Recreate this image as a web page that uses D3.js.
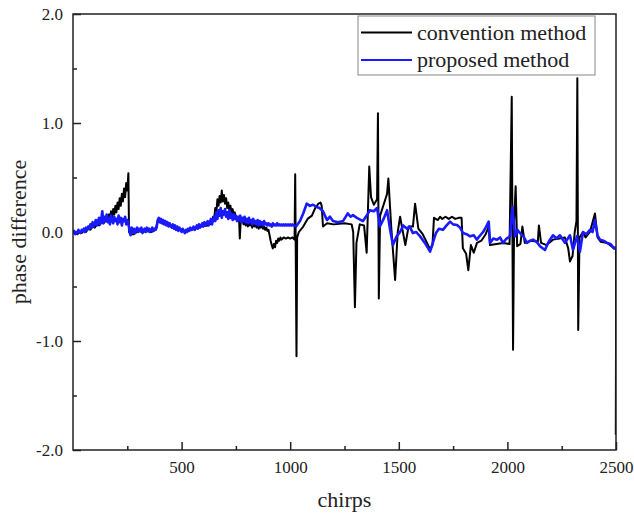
<!DOCTYPE html>
<html>
<head>
<meta charset="utf-8">
<script src="https://cdn.jsdelivr.net/npm/d3@7"></script>
<style>
  body { margin: 0; background: #fff; }
  text { font-family: "Liberation Serif", "Times New Roman", serif; fill: #222; }
  .line { fill: none; stroke-linejoin: round; }
</style>
</head>
<body>
<script>
// series names
var seriesNames = ["convention method", "proposed method"];

// tick labels
var xTicks = [500, 1000, 1500, 2000, 2500];
var xMinor = [250, 750, 1250, 1750, 2250];
var yTicks = [-2, -1, 0, 1, 2];
var yMinor = [-1.5, -0.5, 0.5, 1.5];

// proposed method, chirps 0..1020 sampled every 5 chirps
var earlyStep = 5;
var proposedEarly = [
  -0.01,0.01,-0.02,0.00,-0.01,0.02,0.00,-0.01,0.02,0.01,
  0.03,0.00,0.04,0.02,0.05,0.03,0.07,0.04,0.09,0.05,
  0.08,0.11,0.06,0.10,0.13,0.07,0.12,0.19,0.08,0.14,
  0.10,0.16,0.09,0.13,0.07,0.15,0.11,0.08,0.14,0.10,
  0.12,0.07,0.15,0.09,0.13,0.06,0.12,0.10,0.14,0.07,
  0.11,0.08,0.01,-0.03,0.04,0.00,0.03,-0.01,0.02,0.04,
  0.00,0.03,0.01,0.04,-0.01,0.02,0.03,0.00,0.04,0.01,
  0.03,0.00,0.02,0.04,0.01,0.03,0.02,0.04,0.11,0.13,
  0.09,0.12,0.08,0.11,0.07,0.10,0.06,0.09,0.05,0.08,
  0.06,0.04,0.07,0.03,0.06,0.02,0.05,0.01,0.04,0.02,
  0.00,0.03,0.01,-0.01,0.02,0.00,0.03,0.01,0.04,0.02,
  0.03,0.05,0.02,0.04,0.06,0.03,0.07,0.04,0.06,0.08,
  0.05,0.09,0.06,0.08,0.10,0.06,0.09,0.12,0.07,0.11,
  0.14,0.10,0.18,0.12,0.20,0.15,0.22,0.13,0.19,0.16,
  0.21,0.14,0.18,0.12,0.20,0.13,0.17,0.11,0.16,0.12,
  0.15,0.10,0.14,0.11,0.15,0.09,0.13,0.10,0.14,0.09,
  0.12,0.08,0.13,0.09,0.11,0.07,0.12,0.08,0.10,0.07,
  0.11,0.06,0.10,0.07,0.09,0.06,0.10,0.07,0.08,0.06,
  0.08,0.06,0.07,0.05,0.08,0.06,0.07,0.06,0.08,0.06,
  0.07,0.06,0.07,0.06,0.07,0.06,0.07,0.06,0.07,0.06,
  0.07,0.06,0.07,0.06,0.06
];

// proposed method after chirp 1020: [chirp, phase difference]
var proposedLate = [
  [1027,0.05],[1045,0.10],[1060,0.17],[1076,0.26],[1091,0.24],[1105,0.25],[1122,0.23],[1135,0.22],[1151,0.19],[1169,0.11],
  [1183,0.14],[1197,0.10],[1220,0.09],[1243,0.10],[1265,0.17],[1278,0.14],[1289,0.155],[1307,0.13],[1335,0.10],[1354,0.155],
  [1367,0.20],[1385,0.19],[1400,0.22],[1413,0.05],[1430,0.12],[1446,0.20],[1460,0.02],[1473,-0.12],[1490,-0.04],[1506,0.00],
  [1520,0.06],[1538,0.03],[1550,0.05],[1565,-0.01],[1580,0.00],[1598,-0.04],[1620,-0.10],[1644,-0.18],[1660,-0.08],[1671,-0.01],
  [1685,0.03],[1703,0.02],[1720,0.06],[1736,0.095],[1750,0.07],[1768,0.065],[1782,0.04],[1796,-0.01],[1812,-0.02],[1828,-0.04],
  [1845,-0.03],[1859,-0.07],[1875,-0.03],[1888,0.00],[1900,0.04],[1914,0.095],[1920,-0.10],[1935,-0.06],[1952,-0.07],[1966,-0.05],
  [1980,-0.10],[1996,-0.06],[2012,-0.04],[2023,0.23],[2035,-0.04],[2046,0.02],[2058,-0.01],[2074,-0.04],[2090,-0.10],[2104,-0.08],
  [2118,-0.07],[2134,-0.09],[2150,-0.13],[2173,-0.165],[2190,-0.09],[2210,-0.03],[2226,-0.06],[2242,-0.03],[2265,-0.10],[2288,-0.03],
  [2302,-0.165],[2320,-0.04],[2334,-0.18],[2348,0.00],[2364,-0.02],[2380,0.02],[2392,0.00],[2403,0.11],[2415,-0.03],[2426,-0.07],
  [2442,-0.08],[2459,-0.10],[2475,-0.11],[2491,-0.15],[2500,-0.14]
];

// convention method: [chirp, phase difference]
var convention = [
  [0,-0.01],[10,-0.01],[20,-0.02],[30,0.00],[40,-0.01],[50,0.01],[60,0.00],[70,0.03],[80,0.02],[90,0.05],
  [100,0.04],[110,0.07],[120,0.06],[130,0.09],[140,0.08],[150,0.10],[155,0.14],[160,0.09],[165,0.16],[170,0.12],
  [175,0.19],[180,0.13],[185,0.21],[190,0.16],[195,0.24],[200,0.18],[205,0.27],[210,0.21],[215,0.31],[220,0.24],
  [225,0.35],[230,0.28],[235,0.40],[240,0.32],[245,0.45],[250,0.38],[255,0.54],[258,0.00],[265,-0.02],[280,-0.02],
  [300,0.01],[320,0.00],[340,0.01],[360,0.00],[380,0.02],[390,0.10],[410,0.08],[430,0.07],[450,0.05],[470,0.04],
  [500,0.01],[530,0.01],[560,0.03],[590,0.05],[620,0.06],[640,0.08],[645,0.14],[650,0.12],[655,0.22],[660,0.18],
  [665,0.30],[670,0.24],[675,0.33],[680,0.27],[685,0.38],[690,0.28],[695,0.34],[700,0.26],[705,0.31],[710,0.22],
  [715,0.27],[720,0.20],[725,0.24],[730,0.17],[735,0.21],[740,0.14],[745,0.18],[750,0.12],[760,0.14],[765,0.10],
  [768,-0.06],[772,0.10],[780,0.12],[785,0.07],[790,0.11],[795,0.06],[800,0.10],[805,0.05],[810,0.09],[815,0.06],
  [820,0.10],[825,0.04],[830,0.08],[835,0.05],[840,0.09],[845,0.04],[850,0.07],[855,0.03],[860,0.08],[865,0.04],
  [870,0.06],[875,0.03],[880,0.05],[885,0.02],[890,0.04],[895,0.01],[900,0.02],[905,-0.03],[910,-0.08],[915,-0.12],
  [920,-0.15],[925,-0.11],[930,-0.14],[935,-0.08],[940,-0.10],[945,-0.06],[950,-0.08],[955,-0.05],[960,-0.07],[970,-0.05],
  [980,-0.06],[990,-0.05],[1000,-0.06],[1010,-0.05],[1020,-0.07],[1023,0.53],[1026,-0.30],[1029,-1.14],[1032,-0.05],[1040,0.00],
  [1060,0.05],[1080,0.12],[1100,0.15],[1115,0.22],[1130,0.26],[1140,0.27],[1145,0.24],[1151,0.05],[1170,0.08],[1200,0.07],
  [1250,0.08],[1283,0.07],[1290,0.00],[1298,-0.69],[1305,-0.10],[1320,0.07],[1340,0.06],[1352,-0.19],[1364,0.60],[1372,0.32],
  [1385,0.25],[1400,0.30],[1404,1.09],[1408,-0.61],[1414,0.15],[1430,0.25],[1446,0.35],[1452,0.49],[1465,0.05],[1483,-0.44],
  [1495,0.00],[1506,0.14],[1530,-0.12],[1545,0.05],[1565,0.05],[1575,0.26],[1590,0.03],[1610,-0.02],[1630,-0.10],[1644,-0.16],
  [1655,-0.12],[1662,0.13],[1680,0.11],[1690,0.14],[1700,0.12],[1715,0.14],[1730,0.12],[1745,0.14],[1760,0.12],[1775,0.13],
  [1789,0.13],[1795,-0.15],[1810,-0.20],[1820,-0.35],[1832,-0.12],[1845,-0.19],[1860,-0.10],[1880,-0.08],[1900,-0.02],[1914,0.05],
  [1920,-0.12],[1950,-0.11],[1980,-0.10],[2010,-0.11],[2020,1.24],[2026,-1.08],[2031,0.10],[2038,0.42],[2045,-0.13],[2060,-0.11],
  [2069,0.05],[2080,-0.10],[2110,-0.08],[2140,-0.09],[2145,0.06],[2155,-0.10],[2180,-0.12],[2210,-0.07],[2240,-0.06],[2265,-0.05],
  [2280,-0.15],[2288,-0.27],[2300,-0.22],[2310,0.00],[2318,0.10],[2322,1.41],[2326,-0.90],[2332,-0.05],[2348,0.00],[2360,-0.05],
  [2380,0.00],[2403,0.17],[2415,-0.05],[2430,-0.09],[2460,-0.10],[2490,-0.15],[2496,-0.15],[2500,-0.16],[2500,-1.06],[2499,-1.86]
];

var proposed = proposedEarly.map(function(v, i) { return [i * earlyStep, v]; }).concat(proposedLate);

// set the dimensions and margins of the diagram
var margin = {top: 14, right: 18, bottom: 66, left: 73},
    width = 634 - margin.left - margin.right,
    height = 516 - margin.top - margin.bottom;

var x = d3.scaleLinear().domain([0, 2500]).range([0, width]);
var y = d3.scaleLinear().domain([-2, 2]).range([height, 0]);

var svg = d3.select("body").append("svg")
      .attr("width", 634)
      .attr("height", 516),
    g = svg.append("g")
      .attr("transform", "translate(" + margin.left + "," + margin.top + ")");

g.append("clipPath").attr("id", "plot")
  .append("rect").attr("x", 0).attr("y", 0).attr("width", width).attr("height", height);

// x axis, ticks point inward
g.append("g")
    .attr("transform", "translate(0," + height + ")")
    .call(d3.axisBottom(x).tickValues(xTicks).tickSize(-8).tickPadding(11)
      .tickFormat(function(d) { return String(d); }));
g.append("g")
    .attr("transform", "translate(0," + height + ")")
    .call(d3.axisBottom(x).tickValues(xMinor).tickSize(-4).tickFormat(""));

// y axis
g.append("g")
    .call(d3.axisLeft(y).tickValues(yTicks).tickSize(-8).tickPadding(10)
      .tickFormat(function(d) { return d.toFixed(1); }));
g.append("g")
    .call(d3.axisLeft(y).tickValues(yMinor).tickSize(-4).tickFormat(""));

g.selectAll(".domain").remove();
g.selectAll(".tick line").attr("stroke", "#222").attr("stroke-width", 1.5);
g.selectAll(".tick").select("text")
  .attr("font-family", "Liberation Serif, serif")
  .attr("font-size", 17)
  .style("font-family", "'Liberation Serif', serif")
  .style("font-size", "17px")
  .attr("fill", "#222");

// the lines
var line = d3.line()
    .x(function(d) { return x(d[0]); })
    .y(function(d) { return y(d[1]); });

g.append("path").datum(convention)
  .attr("class", "line")
  .attr("clip-path", "url(#plot)")
  .attr("stroke", "#000")
  .attr("stroke-width", 2)
  .attr("d", line);

g.append("path").datum(proposed)
  .attr("class", "line")
  .attr("clip-path", "url(#plot)")
  .attr("stroke", "#1a1aff")
  .attr("stroke-width", 2.6)
  .attr("d", line);

// frame
g.append("rect")
  .attr("width", width).attr("height", height)
  .attr("fill", "none").attr("stroke", "#222").attr("stroke-width", 1.5);

// legend
var legend = g.append("g").attr("transform", "translate(285,2)");
legend.append("rect")
  .attr("width", 237).attr("height", 59)
  .attr("fill", "#fff").attr("stroke", "#888").attr("stroke-width", 1);
var colors = ["#000", "#1a1aff"];
seriesNames.forEach(function(name, i) {
  var ly = 16.5 + i * 27.5;
  legend.append("line")
    .attr("x1", 3).attr("x2", 54).attr("y1", ly).attr("y2", ly)
    .attr("stroke", colors[i]).attr("stroke-width", 2);
  legend.append("text")
    .attr("x", 59).attr("y", ly + 7)
    .style("font-size", "22px")
    .text(name);
});

// axis titles
svg.append("text")
  .attr("x", margin.left + width / 2).attr("y", 507)
  .attr("text-anchor", "middle")
  .style("font-size", "22px")
  .text("chirps");

svg.append("text")
  .attr("transform", "translate(26," + (margin.top + height / 2) + ") rotate(-90)")
  .attr("text-anchor", "middle")
  .style("font-size", "22px")
  .text("phase difference");
</script>
</body>
</html>
